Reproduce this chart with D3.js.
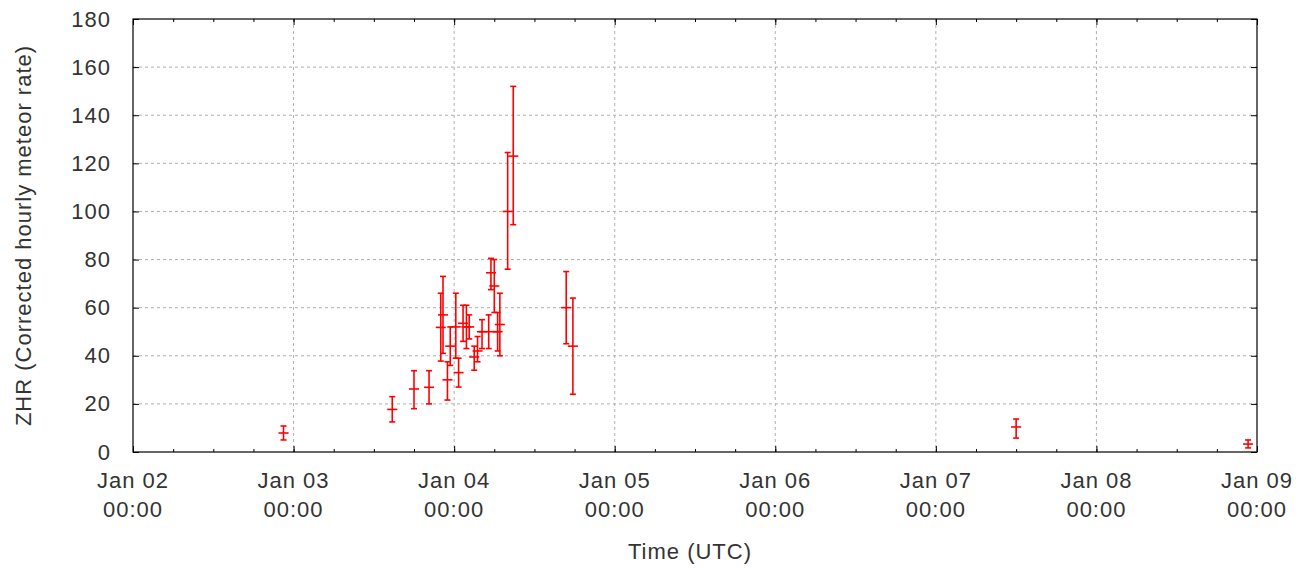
<!DOCTYPE html>
<html>
<head>
<meta charset="utf-8">
<script src="https://cdn.jsdelivr.net/npm/d3@7"></script>
<style>
  body { margin: 0; background: #fff; }
  text { font-family: "Liberation Sans", Arial, sans-serif; fill: #333; letter-spacing: 1px; }
</style>
</head>
<body>
<svg id="chart" width="1308" height="570"></svg>
<script>
// observation times (UTC), ZHR, error bounds, half bin width in hours
const times = [
  "2020-01-02T22:30", "2020-01-03T14:45", "2020-01-03T18:00", "2020-01-03T20:15",
  "2020-01-03T22:00", "2020-01-03T22:20", "2020-01-03T23:00", "2020-01-03T23:25",
  "2020-01-04T00:15", "2020-01-04T00:40", "2020-01-04T01:20", "2020-01-04T01:50",
  "2020-01-04T02:15", "2020-01-04T03:00", "2020-01-04T03:30", "2020-01-04T04:10",
  "2020-01-04T05:10", "2020-01-04T05:30", "2020-01-04T06:00", "2020-01-04T06:30",
  "2020-01-04T06:50", "2020-01-04T08:00", "2020-01-04T08:50", "2020-01-04T16:45",
  "2020-01-04T17:45", "2020-01-07T12:00", "2020-01-08T22:40"
];
const zhr   = [7.9, 17.7, 26.2, 26.9, 51.8, 57, 30, 44, 52, 33, 53.5, 52, 52, 39.5, 42, 50, 50, 74.5, 69, 50, 53, 100, 123, 60, 44, 10.4, 3.3];
const lower = [5, 12.5, 18, 20, 37.8, 41, 21.6, 36, 39, 27, 46, 43, 47, 34, 37.5, 43, 43, 67.5, 58, 42, 40, 76, 94.5, 45, 24, 5.8, 1.7];
const upper = [10.8, 23, 33.8, 33.8, 66, 73, 37.5, 52, 66, 39, 61, 61, 57, 44, 48, 55, 57, 80.5, 80, 58, 66, 124.5, 152, 75, 64, 13.7, 5];
const halfHours = [0.75, 0.75, 0.75, 0.75, 0.75, 0.75, 0.75, 0.75, 0.75, 0.75, 0.75, 0.75, 0.75, 0.75, 0.75, 0.75, 1.5, 0.75, 0.75, 0.75, 0.75, 0.75, 0.75, 0.75, 0.75, 0.75, 0.75];
const yTicks = [0, 20, 40, 60, 80, 100, 120, 140, 160, 180];

const parse = d3.utcParse("%Y-%m-%dT%H:%M");
const data = times.map((t, i) => ({
  t: parse(t), v: zhr[i], lo: lower[i], hi: upper[i], hw: halfHours[i]
}));

const svg = d3.select("#chart");
const margin = { top: 19, right: 51, bottom: 118, left: 133 };
const width = +svg.attr("width") - margin.left - margin.right;
const height = +svg.attr("height") - margin.top - margin.bottom;

const chart = svg.append("g")
  .attr("transform", `translate(${margin.left},${margin.top})`);

const x = d3.scaleUtc()
  .domain([parse("2020-01-02T00:00"), parse("2020-01-09T00:00")])
  .range([0, width]);

const y = d3.scaleLinear()
  .domain([0, 180])
  .range([height, 0]);

const days = d3.utcDay.range(x.domain()[0], d3.utcDay.offset(x.domain()[1], 1));
const sixHours = d3.utcHour.every(6).range(x.domain()[0], x.domain()[1]);

// grid
chart.append("g")
  .selectAll("line")
  .data(days.slice(1, -1))
  .join("line")
  .attr("x1", d => x(d)).attr("x2", d => x(d))
  .attr("y1", 0).attr("y2", height)
  .attr("stroke", "#b0b0b0")
  .attr("stroke-dasharray", "3,3");

chart.append("g")
  .selectAll("line")
  .data(yTicks.slice(1, -1))
  .join("line")
  .attr("x1", 0).attr("x2", width)
  .attr("y1", d => y(d)).attr("y2", d => y(d))
  .attr("stroke", "#b0b0b0")
  .attr("stroke-dasharray", "3,3");

// inward ticks, bottom and top
const fmtDay = d3.utcFormat("%b %d");
const fmtTime = d3.utcFormat("%H:%M");

chart.append("g")
  .attr("transform", `translate(0,${height})`)
  .call(d3.axisBottom(x).tickValues(days).tickSizeInner(-6).tickSizeOuter(0).tickFormat(""))
  .select(".domain").remove();

chart.append("g")
  .attr("transform", `translate(0,${height})`)
  .call(d3.axisBottom(x).tickValues(sixHours).tickSizeInner(-3).tickSizeOuter(0).tickFormat(""))
  .select(".domain").remove();

chart.append("g")
  .call(d3.axisTop(x).tickValues(days).tickSizeInner(-6).tickSizeOuter(0).tickFormat(""))
  .select(".domain").remove();

chart.append("g")
  .call(d3.axisTop(x).tickValues(sixHours).tickSizeInner(-3).tickSizeOuter(0).tickFormat(""))
  .select(".domain").remove();

const dayLabels = chart.append("g")
  .selectAll("text")
  .data(days)
  .join("text")
  .attr("text-anchor", "middle")
  .attr("font-size", "22px")
  .attr("x", d => x(d));
dayLabels.append("tspan").attr("x", d => x(d)).attr("y", height + 36).text(d => fmtDay(d));
dayLabels.append("tspan").attr("x", d => x(d)).attr("y", height + 65).text(d => fmtTime(d));

const yAxis = chart.append("g")
  .call(d3.axisLeft(y).tickValues(yTicks).tickSizeInner(-6).tickSizeOuter(0).tickPadding(22));
yAxis.select(".domain").remove();
yAxis.selectAll("text").attr("font-size", "22px").attr("fill", "#333");
yAxis.selectAll(".tick line").attr("stroke", "#000");

chart.append("g")
  .call(d3.axisRight(y).tickValues(yTicks).tickSizeInner(-6).tickSizeOuter(0).tickFormat(""))
  .attr("transform", `translate(${width},0)`)
  .select(".domain").remove();

// frame
chart.append("rect")
  .attr("width", width)
  .attr("height", height)
  .attr("fill", "none")
  .attr("stroke", "#000")
  .attr("stroke-width", 1.2);

// error bars
const marks = chart.append("g")
  .attr("stroke", "#f00")
  .attr("stroke-width", 1.6)
  .attr("fill", "none");

const pts = marks.selectAll("g")
  .data(data)
  .join("g");

pts.append("line")
  .attr("x1", d => x(d.t)).attr("x2", d => x(d.t))
  .attr("y1", d => y(d.lo)).attr("y2", d => y(d.hi));

pts.append("line")
  .attr("x1", d => x(d3.utcMinute.offset(d.t, -d.hw * 60)))
  .attr("x2", d => x(d3.utcMinute.offset(d.t, d.hw * 60)))
  .attr("y1", d => y(d.v)).attr("y2", d => y(d.v));

pts.append("line")
  .attr("x1", d => x(d.t) - 3).attr("x2", d => x(d.t) + 3)
  .attr("y1", d => y(d.hi)).attr("y2", d => y(d.hi));

pts.append("line")
  .attr("x1", d => x(d.t) - 3).attr("x2", d => x(d.t) + 3)
  .attr("y1", d => y(d.lo)).attr("y2", d => y(d.lo));

// axis titles
svg.append("text")
  .attr("x", margin.left + width / 2 - 5)
  .attr("y", 559)
  .attr("text-anchor", "middle")
  .attr("font-size", "22px")
  .text("Time (UTC)");

svg.append("text")
  .attr("transform", `translate(31,${margin.top + height / 2}) rotate(-90)`)
  .attr("text-anchor", "middle")
  .attr("font-size", "22px")
  .text("ZHR (Corrected hourly meteor rate)");
</script>
</body>
</html>
